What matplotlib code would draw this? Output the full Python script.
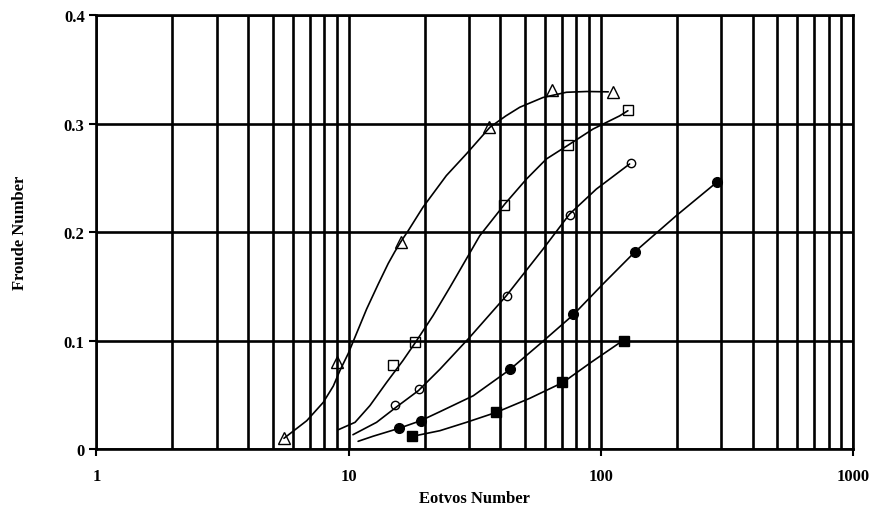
"""Froude number vs Eotvos number, five data sets with fitted curves."""

import matplotlib

matplotlib.use("Agg")
import matplotlib.pyplot as plt
from matplotlib.ticker import FixedLocator, FuncFormatter, NullFormatter

# measured points (open triangles, open squares, open circles, filled circles, filled squares)
tri_eo = [5.56, 9.0, 16.1, 36.1, 64.3, 111.7]
tri_fr = [0.010, 0.080, 0.191, 0.297, 0.331, 0.329]

sq_eo = [15.0, 18.4, 41.3, 74.1, 128.0]
sq_fr = [0.077, 0.099, 0.225, 0.280, 0.312]

circ_eo = [15.3, 19.0, 42.3, 75.7, 132.0]
circ_fr = [0.0405, 0.055, 0.141, 0.2157, 0.2636]

fcirc_eo = [15.8, 19.3, 43.5, 77.4, 137.0, 288.0]
fcirc_fr = [0.019, 0.026, 0.0737, 0.124, 0.182, 0.2458]

fsq_eo = [17.9, 38.5, 70.2, 123.0]
fsq_fr = [0.0117, 0.034, 0.0614, 0.100]

# fitted curves
tri_curve_eo = [5.54, 6.82, 7.93, 8.69, 9.24, 9.96, 10.59, 11.78, 13.1, 14.35, 15.25, 16.2, 17.2,
                19.7, 24.4, 29.3, 36.3, 42.0, 47.7, 59.0, 73.0, 88.0, 107.0]
tri_curve_fr = [0.0099, 0.0261, 0.0430, 0.058, 0.0725, 0.088, 0.103, 0.129, 0.152, 0.171, 0.182, 0.192, 0.201,
                0.2228, 0.252, 0.272, 0.2965, 0.307, 0.315, 0.324, 0.3288, 0.3295, 0.3292]

sq_curve_eo = [9.1, 10.6, 12.14, 14.15, 16.4, 18.4, 21.6, 25.2, 26.8, 33.1,
               41.6, 50.7, 60.8, 74.1, 93.1, 118.6, 128.0]
sq_curve_fr = [0.0178, 0.0246, 0.040, 0.0615, 0.0814, 0.0983, 0.1229, 0.149, 0.1597, 0.1966,
               0.2258, 0.2488, 0.2673, 0.280, 0.2949, 0.307, 0.3118]

circ_curve_eo = [10.4, 12.9, 15.4, 18.9, 23.0, 30.2, 42.2, 59.0, 75.2, 96.0, 130.0]
circ_curve_fr = [0.0132, 0.0246, 0.0384, 0.0538, 0.0735, 0.103, 0.1413, 0.1843, 0.2166, 0.2396, 0.2627]

fcirc_curve_eo = [10.9, 12.5, 15.8, 19.3, 23.0, 31.2, 43.5, 57.3, 77.6, 101.9, 138.0, 199.0, 288.0]
fcirc_curve_fr = [0.0071, 0.0118, 0.019, 0.0261, 0.0344, 0.0491, 0.0731, 0.0968, 0.1235, 0.152, 0.1828, 0.215, 0.2458]

fsq_curve_eo = [17.9, 23.0, 29.3, 38.5, 52.2, 70.8, 91.6, 122.0]
fsq_curve_fr = [0.0117, 0.0169, 0.0246, 0.0338, 0.0467, 0.0614, 0.080, 0.0998]

x_major = [1, 10, 100, 1000]
x_minor = [m * d for d in (1, 10, 100) for m in range(2, 10)]
y_ticks = [0, 0.1, 0.2, 0.3, 0.4]

plt.rcParams["font.family"] = ["Liberation Serif", "DejaVu Serif"]
plt.rcParams["font.weight"] = "bold"

figure = plt.figure(figsize=(8.74, 5.10), dpi=100)
axis = figure.add_axes([0.1104, 0.1176, 0.8656, 0.851])

axis.set_xscale("log")
axis.set_xlim(1, 1000)
axis.set_ylim(0, 0.4)

# heavy black grid on every decade subdivision
for x in x_minor + x_major:
    axis.axvline(x, color="black", linewidth=1.9, zorder=1)
for y in y_ticks:
    axis.axhline(y, color="black", linewidth=1.9, zorder=1)

curve_style = dict(color="black", linewidth=1.2, zorder=2, solid_capstyle="round",
                   solid_joinstyle="round")
axis.plot(tri_curve_eo, tri_curve_fr, **curve_style)
axis.plot(sq_curve_eo, sq_curve_fr, **curve_style)
axis.plot(circ_curve_eo, circ_curve_fr, **curve_style)
axis.plot(fcirc_curve_eo, fcirc_curve_fr, **curve_style)
axis.plot(fsq_curve_eo, fsq_curve_fr, **curve_style)

open_style = dict(linestyle="none", markerfacecolor="none", markeredgecolor="black",
                  markeredgewidth=1.0, zorder=3)
axis.plot(tri_eo, tri_fr, marker="^", markersize=9, **open_style)
axis.plot(sq_eo, sq_fr, marker="s", markersize=7, **open_style)
axis.plot(circ_eo, circ_fr, marker="o", markersize=6, **open_style)
axis.plot(fcirc_eo, fcirc_fr, linestyle="none", marker="o", markersize=7,
          color="black", zorder=3)
axis.plot(fsq_eo, fsq_fr, linestyle="none", marker="s", markersize=7.5,
          color="black", zorder=3)

axis.xaxis.set_major_locator(FixedLocator(x_major))
axis.xaxis.set_minor_locator(FixedLocator(x_minor))
axis.xaxis.set_minor_formatter(NullFormatter())
axis.xaxis.set_major_formatter(FuncFormatter(lambda v, _: f"{v:g}"))
axis.set_yticks(y_ticks)
axis.yaxis.set_major_formatter(FuncFormatter(lambda v, _: f"{v:g}"))

axis.tick_params(axis="both", which="major", direction="out", length=5, width=1.5,
                 labelsize=12, color="black")
axis.tick_params(axis="x", which="minor", length=0)
axis.tick_params(axis="x", pad=9)
for spine in axis.spines.values():
    spine.set_linewidth(1.9)
    spine.set_zorder(4)

axis.set_xlabel("Eotvos Number", fontsize=12, fontweight="bold", labelpad=4)
axis.set_ylabel("Froude Number", fontsize=12, fontweight="bold", labelpad=26)

figure.savefig("out.png", dpi=100)
plt.close(figure)
